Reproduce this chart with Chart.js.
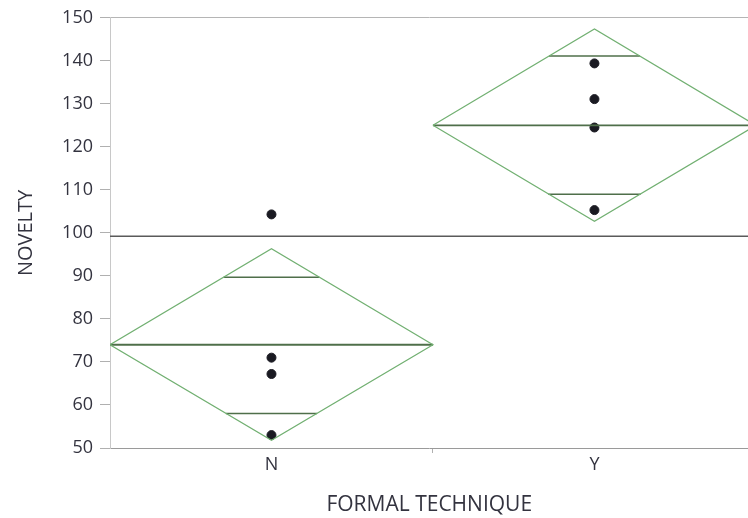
<!DOCTYPE html>
<html>
<head>
<meta charset="utf-8">
<script src="https://cdn.jsdelivr.net/npm/chart.js@4/dist/chart.umd.min.js"></script>
<style>
  html, body { margin: 0; padding: 0; background: #fff; overflow: hidden; }
  #wrap { width: 748px; height: 518px; overflow: hidden; }
</style>
</head>
<body>
<div id="wrap"><canvas id="c" width="754" height="518"></canvas></div>
<script>
// ---- data ----
const categories = ['N', 'Y'];
const groupMeans = [74.0, 125.0];
const ciUpper = [96.3, 147.4];
const ciLower = [51.8, 102.7];
const overlapUpper = [89.7, 141.1];
const overlapLower = [58.0, 109.0];
const grandMean = 99.2;
const pointsN = [104.3, 71.0, 67.2, 53.0];
const pointsY = [139.4, 131.1, 124.5, 105.3];
const yTicks = [50, 60, 70, 80, 90, 100, 110, 120, 130, 140, 150];

const diamondColor = '#72b072';
const meanLineColor = '#4f6f4a';
const textColor = '#33333f';
const fontFamily = '"Open Sans", "Noto Sans", sans-serif';

const datasets = [];
categories.forEach((cat, i) => {
  const lo = i - 0.5, hi = i + 0.5;
  datasets.push({
    type: 'line', label: 'diamond ' + cat,
    data: [
      {x: lo, y: groupMeans[i]}, {x: i, y: ciUpper[i]},
      {x: hi, y: groupMeans[i]}, {x: i, y: ciLower[i]},
      {x: lo, y: groupMeans[i]}
    ],
    borderColor: diamondColor, borderWidth: 1.2, pointRadius: 0,
    fill: false, tension: 0
  });
  datasets.push({
    type: 'line', label: 'mean ' + cat,
    data: [{x: lo, y: groupMeans[i]}, {x: hi, y: groupMeans[i]}],
    borderColor: meanLineColor, borderWidth: 1.8, pointRadius: 0, fill: false
  });
  const half = (ciUpper[i] - groupMeans[i]);
  [overlapUpper[i], overlapLower[i]].forEach(v => {
    const w = 0.5 * (1 - Math.abs(v - groupMeans[i]) / half);
    datasets.push({
      type: 'line', label: 'overlap ' + cat,
      data: [{x: i - w, y: v}, {x: i + w, y: v}],
      borderColor: meanLineColor, borderWidth: 1.5, pointRadius: 0, fill: false
    });
  });
});
datasets.push({
  type: 'line', label: 'grand mean',
  data: [{x: -0.5, y: grandMean}, {x: 1.6, y: grandMean}],
  borderColor: '#5a5a5a', borderWidth: 1.5, pointRadius: 0, fill: false
});
[pointsN, pointsY].forEach((pts, i) => {
  datasets.push({
    type: 'scatter', label: 'points ' + categories[i],
    data: pts.map(v => ({x: i, y: v})),
    backgroundColor: '#1a1a22', borderColor: '#1a1a22',
    pointRadius: 4.5, pointHoverRadius: 4.5
  });
});

const X_MAX = 1.477;

new Chart(document.getElementById('c'), {
  type: 'scatter',
  data: { datasets },
  options: {
    responsive: false,
    animation: false,
    events: [],
    layout: { padding: 0 },
    plugins: { legend: { display: false }, tooltip: { enabled: false } },
    scales: {
      x: {
        type: 'linear', position: 'bottom',
        min: -0.5, max: X_MAX,
        afterBuildTicks: s => { s.ticks = [{value: 0}, {value: 0.5}, {value: 1}]; },
        afterFit: s => { s.height = 70; },
        ticks: {
          autoSkip: false, maxRotation: 0, padding: 1,
          color: textColor, font: { family: fontFamily, size: 18 },
          callback: v => (v === 0 ? categories[0] : v === 1 ? categories[1] : '')
        },
        grid: {
          drawOnChartArea: false, drawTicks: true, tickLength: 5,
          color: ctx => (ctx.tick && ctx.tick.value === 0.5 ? '#b0b0b0' : 'rgba(0,0,0,0)')
        },
        border: { display: true, color: '#9a9a9a', width: 1 },
        title: {
          display: true, text: 'FORMAL TECHNIQUE', color: textColor,
          font: { family: fontFamily, size: 21 }, padding: { top: 4, bottom: 0 }
        }
      },
      xTop: {
        type: 'linear', position: 'top', min: -0.5, max: X_MAX,
        afterFit: s => { s.height = 15; },
        ticks: { display: false },
        grid: { display: false, drawTicks: false },
        border: { display: true, color: '#b5b5b5', width: 1 }
      },
      y: {
        type: 'linear', min: 50, max: 150,
        afterBuildTicks: s => { s.ticks = yTicks.map(v => ({value: v})); },
        afterFit: s => { s.width = 110; },
        ticks: {
          color: textColor, padding: 7,
          font: { family: fontFamily, size: 18 }
        },
        grid: { drawOnChartArea: false, drawTicks: true, tickLength: 10, color: '#b0b0b0' },
        border: { display: true, color: '#c8c8c8', width: 1 },
        title: {
          display: true, text: 'NOVELTY', color: textColor,
          font: { family: fontFamily, size: 20 }, padding: { top: 14, bottom: 0 }
        }
      }
    }
  }
});
</script>
</body>
</html>
